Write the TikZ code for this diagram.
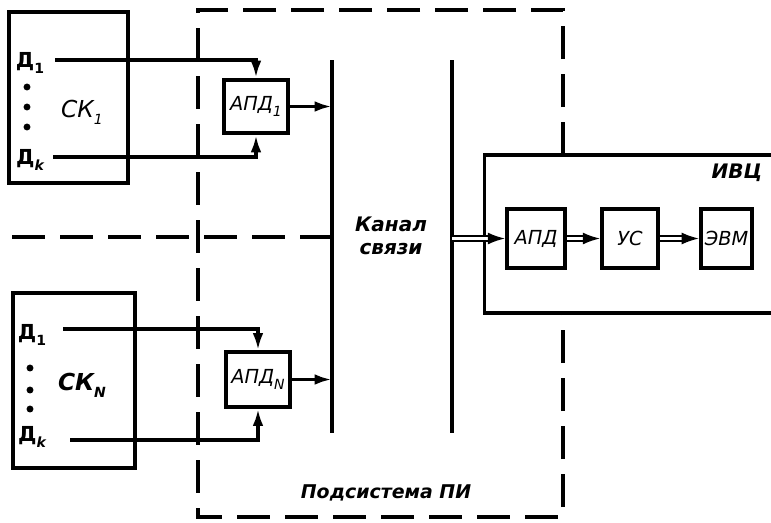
\documentclass[tikz,border=0pt]{standalone}
\usepackage{fontspec}
\setmainfont{DejaVu Sans}
\usetikzlibrary{positioning,arrows.meta}

\newcommand\ix[1]{\raisebox{-0.55ex}{\fontsize{10.5}{10.5}\selectfont #1}}

\tikzset{
  blk/.style={draw,line width=2.7pt,inner sep=0pt,font=\fontsize{14.5}{16}\selectfont\itshape},
  wire/.style={draw,line width=2.6pt},
  sigarr/.style={wire,-{Latex[length=13pt,width=8pt]}},
  dblarr/.style={draw,double,double distance=2pt,line width=1.6pt,-{Latex[length=13pt,width=9pt]}},
  busline/.style={draw,line width=2.6pt},
  bound/.style={draw,line width=2.7pt,dash pattern=on 25pt off 11pt},
  dat/.style={font=\fontsize{15.5}{17}\selectfont\bfseries,inner sep=1pt},
  sklbl/.style={font=\fontsize{17.5}{19}\selectfont\bfseries\itshape}}

\begin{document}
\begin{tikzpicture}[x=0.75pt,y=-0.75pt,font=\fontsize{15}{17}\selectfont\bfseries\itshape]
\useasboundingbox (0,0) rectangle (771,522);
% ===== subsystem boundary (dashed) =====
\draw[bound] (563,155) -- (563,10) -- (198,10) -- (198,517) -- (563,517) -- (563,313);
\coordinate (mid) at (12,237);
% ===== channel of communication =====
\coordinate (ch1t) at (332,60); \coordinate (ch1b) at (332,433);
\coordinate (ch2t) at (452,60); \coordinate (ch2b) at (452,433);
\draw[busline] (ch1t) -- (ch1b);
\draw[busline] (ch2t) -- (ch2b);
\draw[bound] (mid) -- (mid -| ch1t);
\node[align=center] (chl) at (391,236) {Канал\\связи};
\node[font=\fontsize{14.2}{16}\selectfont\bfseries\itshape] (pil) at (386,493) {Подсистема ПИ};
% ===== first object, SK_1 =====
\node[blk,minimum width=89pt,minimum height=128pt] (sk1) at (68.5,97.5) {};
\node[sklbl,font=\fontsize{17.5}{19}\selectfont\itshape] (sk1l) at (82,112) {СК\ix{1}};
\node[dat] (d11) at (30,63) {Д\ix{1}};
\node[dat] (dk1) at (30,160) {Д\ix{\itshape k}};
\foreach \y in {87,107,127}{
  \fill (27,\y) circle (2.6pt);}
\node[blk,minimum width=48pt,minimum height=40pt] (apd1) at (256,106.5) {АПД\ix{1}};
\coordinate (s11) at (55,60);
\coordinate (sk11) at (53,157);
\draw[sigarr] (s11) -| (apd1.north);
\draw[sigarr] (sk11) -| (apd1.south);
\draw[sigarr] (apd1.east) -- (apd1.east -| ch1t);
% ===== last object, SK_N =====
\node[blk,minimum width=91.5pt,minimum height=131pt] (skn) at (74,380.5) {};
\node[sklbl] (sknl) at (82,385) {СК\ix{N}};
\node[dat] (d1n) at (32,335) {Д\ix{1}};
\node[dat] (dkn) at (32,437) {Д\ix{\itshape k}};
\foreach \y in {368,390,409}{
  \fill (30,\y) circle (2.6pt);}
\node[blk,minimum width=48pt,minimum height=41pt] (apdn) at (258,379.5) {АПД\ix{N}};
\coordinate (s1n) at (63,329);
\coordinate (skkn) at (70,440);
\draw[sigarr] (s1n) -| (apdn.north);
\draw[sigarr] (skkn) -| (apdn.south);
\draw[sigarr] (apdn.east) -- (apdn.east -| ch1t);
% ===== computing centre =====
\node[blk,minimum width=222pt,minimum height=118.5pt] (ivc) at (632.5,234) {};
\node (ivcl) at (737,173) {ИВЦ};
\node[blk,minimum width=43.5pt,minimum height=44pt] (apd) at (536,238.5) {АПД};
\node[blk,minimum width=42pt,minimum height=44pt] (us) at (630,238.5) {УС};
\node[blk,minimum width=38.5pt,minimum height=44pt] (evm) at (726.5,238.5) {ЭВМ};
\draw[dblarr] (apd.west -| ch2t) -- (apd.west);
\draw[dblarr] (apd.east) -- (us.west);
\draw[dblarr] (us.east) -- (evm.west);
\end{tikzpicture}
\end{document}
